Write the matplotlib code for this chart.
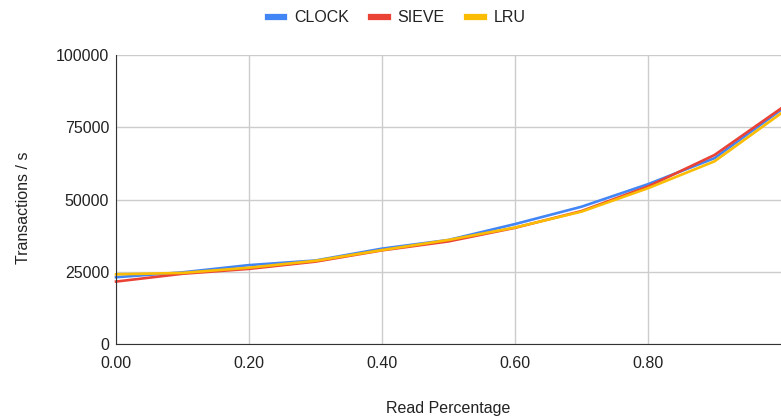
import matplotlib.pyplot as plt

plt.rcParams['font.family'] = ['Liberation Sans', 'DejaVu Sans']

read_pct = [0.0, 0.1, 0.2, 0.3, 0.4, 0.5, 0.6, 0.7, 0.8, 0.9, 1.0]
clock = [23100, 24800, 27300, 28900, 33000, 36000, 41500, 47500, 55300, 64300, 81000]
sieve = [21600, 24300, 26000, 28500, 32400, 35500, 40200, 46000, 54500, 65400, 81500]
lru = [24100, 24600, 26400, 28800, 32500, 36000, 40300, 45800, 53900, 63200, 79800]

fs = 11.5
txt = "#222222"

fig = plt.figure(figsize=(7.81, 4.17), dpi=100)
ax = fig.add_axes([116 / 781, 1 - 344 / 417, 665 / 781, 289 / 417])

ax.plot(read_pct, clock, color="#4285F4", linewidth=1.9, label="CLOCK", clip_on=False)
ax.plot(read_pct, sieve, color="#EA4335", linewidth=1.9, label="SIEVE", clip_on=False)
ax.plot(read_pct, lru, color="#FBBC04", linewidth=1.9, label="LRU", clip_on=False)

ax.set_xlim(0, 1.0)
ax.set_ylim(0, 100000)
ax.set_xticks([0.0, 0.2, 0.4, 0.6, 0.8])
ax.set_xticklabels(["0.00", "0.20", "0.40", "0.60", "0.80"])
ax.set_yticks([0, 25000, 50000, 75000, 100000])
ax.tick_params(length=0, labelsize=fs, colors=txt)
ax.tick_params(axis="x", pad=9)
ax.tick_params(axis="y", pad=5)

ax.grid(True, color="#cccccc", linewidth=1)
ax.set_axisbelow(True)
for side in ["top", "right"]:
    ax.spines[side].set_visible(False)
ax.spines["left"].set_color("#333333")
ax.spines["bottom"].set_color("#333333")

ax.set_xlabel("Read Percentage", fontsize=fs, color=txt, va="center")
ax.xaxis.set_label_coords(0.5, (344 - 408) / 289)
ax.set_ylabel("Transactions / s", fontsize=fs, color=txt, va="center")
ax.yaxis.set_label_coords((23 - 116) / 665, (344 - 208) / 289)

leg = fig.legend(loc="center", bbox_to_anchor=(396.5 / 781, 1 - 18 / 417), ncol=3,
                 frameon=False, fontsize=fs, handlelength=1.05, handletextpad=0.6,
                 columnspacing=1.4, labelcolor=txt)
for h in leg.get_lines():
    h.set_linewidth(4.5)

fig.savefig("out.png", dpi=100)
